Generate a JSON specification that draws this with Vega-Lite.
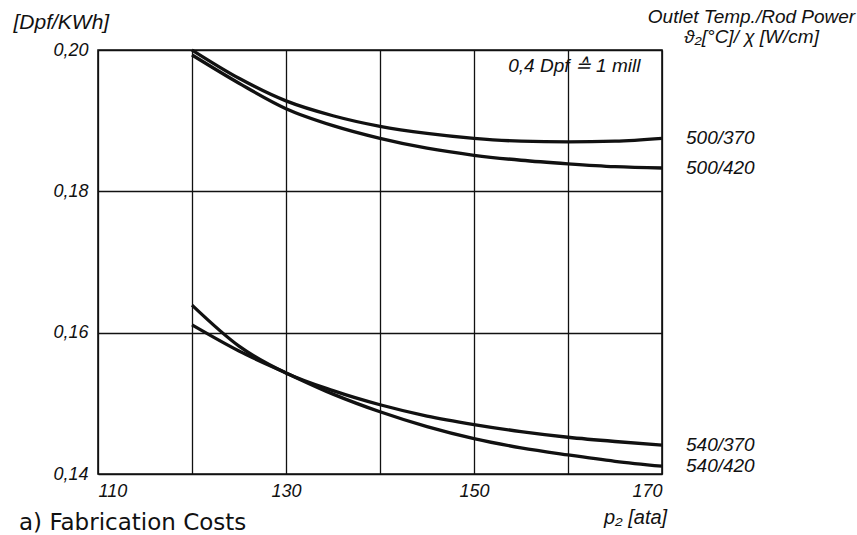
{
  "$schema": "https://vega.github.io/schema/vega-lite/v6.json",
  "width": 564,
  "height": 424,
  "autosize": "none",
  "padding": {"left": 98, "top": 50, "right": 195, "bottom": 61},
  "background": "white",
  "config": {
    "font": "Liberation Sans",
    "view": {"stroke": "#111", "strokeWidth": 1.6},
    "axis": {
      "domain": false,
      "ticks": false,
      "grid": true,
      "gridColor": "#111",
      "gridWidth": 1.3,
      "gridOpacity": 1,
      "labelFont": "Liberation Sans",
      "labelFontStyle": "italic",
      "labelFontSize": 18,
      "labelColor": "#111",
      "titleFont": "Liberation Sans",
      "titleFontStyle": "italic",
      "titleFontWeight": "normal",
      "titleColor": "#111"
    }
  },
  "title": {
    "text": "a) Fabrication Costs",
    "orient": "bottom",
    "anchor": "start",
    "frame": "group",
    "font": "DejaVu Sans",
    "fontSize": 23,
    "fontWeight": "normal",
    "color": "#111",
    "offset": -15,
    "dx": -79
  },
  "data": {
    "values": [
      {"curve": "500/370", "p2": 120, "cost": 0.2000},
      {"curve": "500/370", "p2": 125, "cost": 0.1960},
      {"curve": "500/370", "p2": 130, "cost": 0.1928},
      {"curve": "500/370", "p2": 135, "cost": 0.1907},
      {"curve": "500/370", "p2": 140, "cost": 0.1892},
      {"curve": "500/370", "p2": 145, "cost": 0.1882},
      {"curve": "500/370", "p2": 150, "cost": 0.1875},
      {"curve": "500/370", "p2": 155, "cost": 0.1871},
      {"curve": "500/370", "p2": 160, "cost": 0.1870},
      {"curve": "500/370", "p2": 165, "cost": 0.1871},
      {"curve": "500/370", "p2": 170, "cost": 0.1875},
      {"curve": "500/420", "p2": 120, "cost": 0.1993},
      {"curve": "500/420", "p2": 125, "cost": 0.1953},
      {"curve": "500/420", "p2": 130, "cost": 0.1917},
      {"curve": "500/420", "p2": 135, "cost": 0.1893},
      {"curve": "500/420", "p2": 140, "cost": 0.1875},
      {"curve": "500/420", "p2": 145, "cost": 0.1861},
      {"curve": "500/420", "p2": 150, "cost": 0.1851},
      {"curve": "500/420", "p2": 155, "cost": 0.1844},
      {"curve": "500/420", "p2": 160, "cost": 0.1839},
      {"curve": "500/420", "p2": 165, "cost": 0.1835},
      {"curve": "500/420", "p2": 170, "cost": 0.1833},
      {"curve": "540/370", "p2": 120, "cost": 0.1639},
      {"curve": "540/370", "p2": 125, "cost": 0.1581},
      {"curve": "540/370", "p2": 130, "cost": 0.1543},
      {"curve": "540/370", "p2": 135, "cost": 0.1518},
      {"curve": "540/370", "p2": 140, "cost": 0.1498},
      {"curve": "540/370", "p2": 145, "cost": 0.1482},
      {"curve": "540/370", "p2": 150, "cost": 0.1470},
      {"curve": "540/370", "p2": 155, "cost": 0.1460},
      {"curve": "540/370", "p2": 160, "cost": 0.1452},
      {"curve": "540/370", "p2": 165, "cost": 0.1446},
      {"curve": "540/370", "p2": 170, "cost": 0.1441},
      {"curve": "540/420", "p2": 120, "cost": 0.1611},
      {"curve": "540/420", "p2": 125, "cost": 0.1574},
      {"curve": "540/420", "p2": 130, "cost": 0.1543},
      {"curve": "540/420", "p2": 135, "cost": 0.1513},
      {"curve": "540/420", "p2": 140, "cost": 0.1488},
      {"curve": "540/420", "p2": 145, "cost": 0.1467},
      {"curve": "540/420", "p2": 150, "cost": 0.1450},
      {"curve": "540/420", "p2": 155, "cost": 0.1437},
      {"curve": "540/420", "p2": 160, "cost": 0.1427},
      {"curve": "540/420", "p2": 165, "cost": 0.1418},
      {"curve": "540/420", "p2": 170, "cost": 0.1411}
    ]
  },
  "resolve": {"axis": {"y": "independent"}},
  "layer": [
    {
      "mark": {"type": "line", "interpolate": "monotone", "strokeWidth": 3.3, "color": "#111"},
      "encoding": {
        "x": {
          "field": "p2",
          "type": "quantitative",
          "scale": {"domain": [110, 170], "nice": false, "zero": false},
          "axis": {
            "values": [110, 120, 130, 140, 150, 160, 170],
            "labelExpr": "datum.value % 20 == 10 ? datum.label : ''",
            "labelPadding": 8,
            "title": "p₂ [ata]",
            "titleFontSize": 20,
            "titleX": 537,
            "titleY": 49,
            "titleAlign": "center",
            "titleBaseline": "alphabetic"
          }
        },
        "y": {
          "field": "cost",
          "type": "quantitative",
          "scale": {"domain": [0.14, 0.20], "nice": false, "zero": false},
          "axis": {
            "values": [0.14, 0.16, 0.18, 0.20],
            "labelExpr": "replace(format(datum.value, '.2f'), '.', ',')",
            "labelPadding": 10,
            "labelFontSize": 18,
            "title": "[Dpf/KWh]",
            "titleFontSize": 21,
            "titleAngle": 0,
            "titleX": -85,
            "titleY": -22,
            "titleAlign": "left",
            "titleBaseline": "alphabetic"
          }
        },
        "detail": {"field": "curve"}
      }
    },
    {
      "transform": [{"filter": "datum.p2 == 170"}],
      "mark": {"type": "text", "align": "left", "baseline": "middle", "dx": 24, "fontSize": 19, "fontStyle": "italic", "color": "#111"},
      "encoding": {
        "x": {"field": "p2", "type": "quantitative"},
        "y": {"field": "cost", "type": "quantitative", "axis": null},
        "text": {"field": "curve"}
      }
    },
    {
      "data": {"values": [{"note": "0,4 Dpf ≙ 1 mill", "p2": 167.7, "cost": 0.1977}]},
      "mark": {"type": "text", "align": "right", "baseline": "middle", "fontSize": 19, "fontStyle": "italic", "color": "#111"},
      "encoding": {
        "x": {"field": "p2", "type": "quantitative"},
        "y": {
          "field": "cost",
          "type": "quantitative",
          "axis": {
            "orient": "right",
            "grid": false,
            "labels": false,
            "ticks": false,
            "domain": false,
            "title": ["Outlet Temp./Rod Power", "ϑ₂[°C]/ χ [W/cm]"],
            "titleFontSize": 19,
            "titleLineHeight": 20,
            "titleAngle": 0,
            "titleX": 89,
            "titleY": -28,
            "titleAlign": "center",
            "titleBaseline": "alphabetic"
          }
        },
        "text": {"field": "note"}
      }
    }
  ]
}
